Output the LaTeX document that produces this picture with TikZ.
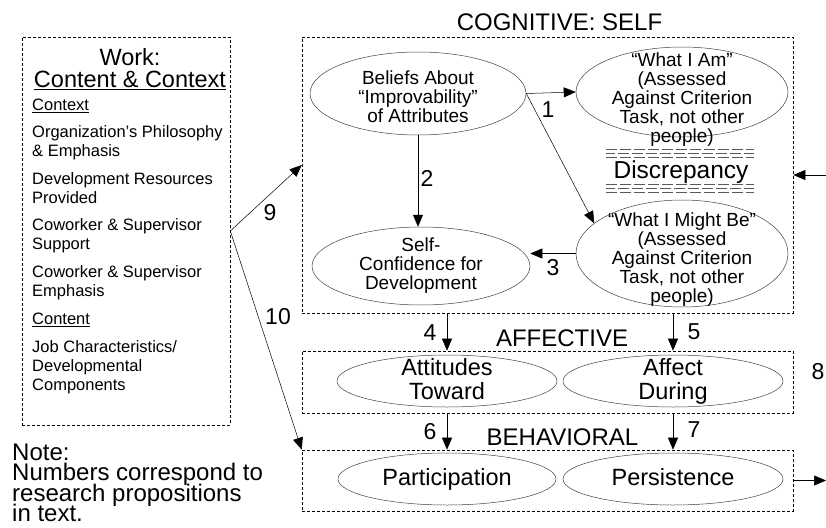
\documentclass[tikz,border=0pt]{standalone}
\usepackage{fontspec}
\setmainfont{Liberation Sans}
\usepackage{tikz}
\usetikzlibrary{positioning}
\usetikzlibrary{arrows.meta}
\usetikzlibrary{shapes.geometric}
\newcommand{\titlefont}{\fontsize{24}{20.5}\selectfont\lineskiplimit=-30pt\relax}
\newcommand{\ovaltext}{\fontsize{19}{19}\selectfont}
\newcommand{\boxtext}{\fontsize{16.5}{19}\selectfont}
\newcommand{\numtext}{\fontsize{23}{23}\selectfont}
\tikzset{dashbox/.style={draw,dash pattern=on 3pt off 2pt,line width=0.6pt,minimum width=491pt,inner sep=0pt}}
\tikzset{oval/.style={draw=black!75,ellipse,inner sep=0pt,line width=0.5pt}}
\tikzset{ovallab/.style={align=center,inner sep=0pt,font=\ovaltext}}
\tikzset{biglab/.style={align=center,inner sep=0pt,font=\fontsize{23.5}{24}\selectfont}}
\tikzset{workitem/.style={anchor=west,align=left,inner sep=0pt,font=\boxtext}}
\tikzset{numlab/.style={inner sep=0pt,font=\numtext}}
\tikzset{arr/.style={-{Triangle[length=12pt,width=10pt]},line width=0.5pt}}

\begin{document}
\begin{tikzpicture}[x=1pt,y=-1pt]
            \useasboundingbox (0,0) rectangle (826,527);
            % work box
            \node[dashbox,minimum width=208pt,minimum height=388pt] (work) at (126,231) {};
            \node[inner sep=0pt,font=\fontsize{23.5}{23.5}\selectfont] (worktitle) at (130,57) {Work:};
            \node[inner sep=0pt,font=\fontsize{23.5}{23.5}\selectfont] (worksub) at (130,80) {\underline{Content \& Context}};
            \node[workitem] (ctx) at (32,106) {\underline{Context}};
            \node[workitem] (w1) at (32,142.5) {Organization’s Philosophy\\\& Emphasis};
            \node[workitem] (w2) at (32,188.5) {Development Resources\\Provided};
            \node[workitem] (w3) at (32,236) {Coworker \& Supervisor\\Support};
            \node[workitem] (w4) at (32,282.5) {Coworker \& Supervisor\\Emphasis};
            \node[workitem] (cnt) at (32,320) {\underline{Content}};
            \node[workitem] (w5) at (32,367) {Job Characteristics/\\Developmental\\Components};
            \node[anchor=west,align=left,inner sep=0pt,font=\titlefont] (note) at (12,483) {Note:\\Numbers correspond to\\research propositions\\in text.};

            % three levels
            \node[dashbox,minimum height=276pt] (cog) at (547.5,175) {};
            \node[dashbox,minimum height=62pt] (aff) at (547.5,382) {};
            \node[dashbox,minimum height=61pt] (beh) at (547.5,480.5) {};
            \draw (559.5,22) node[inner sep=0pt,font=\titlefont] (cogt) {COGNITIVE: SELF};
            \draw (562,338) node[inner sep=0pt,font=\titlefont] (afft) {AFFECTIVE};
            \draw (562.5,437) node[inner sep=0pt,font=\titlefont] (beht) {BEHAVIORAL};

            % ellipses
            \node[oval,minimum width=216pt,minimum height=83pt] (beliefs) at (418,93.5) {};
            \node[ovallab] (beliefs-t) at ([yshift=-3pt]beliefs.center) {Beliefs About\\“Improvability”\\of Attributes};
            \node[oval,minimum width=212pt,minimum height=90pt] (whatam) at (682,92) {};
            \node[ovallab] (whatam-t) at ([yshift=-8pt]whatam.center) {“What I Am”\\(Assessed\\Against Criterion\\Task, not other\\people)};
            \node[oval,minimum width=212pt,minimum height=107pt] (mightbe) at (682,253.5) {};
            \node[ovallab] (mightbe-t) at ([yshift=-6pt]mightbe.center) {“What I Might Be”\\(Assessed\\Against Criterion\\Task, not other\\people)};
            \node[oval,minimum width=218pt,minimum height=78pt] (selfconf) at (421,266) {};
            \node[ovallab] (selfconf-t) at (selfconf.center) {Self-\\Confidence for\\Development};
            \node[oval,minimum width=220pt,minimum height=52pt] (attitudes) at (447,381) {};
            \node[biglab] (attitudes-t) at (attitudes.center) {Attitudes\\Toward\vphantom{g}};
            \node[oval,minimum width=220pt,minimum height=52pt] (affect) at (673,381) {};
            \node[biglab] (affect-t) at (affect.center) {Affect\\During};
            \node[oval,minimum width=218pt,minimum height=52pt] (particip) at (447,479) {};
            \node[biglab] (particip-t) at (particip.center) {Participation};
            \node[oval,minimum width=220pt,minimum height=52pt] (persist) at (673,479) {};
            \node[biglab] (persist-t) at (persist.center) {Persistence\vphantom{p}};

            % discrepancy
            \foreach \yy/\ph in {149/0,153/2,157/0,184/0,188/2,192/0}
                \draw[black!65,line width=0.9pt,dash pattern=on 11pt off 3pt,dash phase=\ph pt] (606,\yy) -- (754,\yy);
            \node[inner sep=0pt,font=\fontsize{24.5}{24.5}\selectfont] (disc) at (681,172) {Discrepancy};

            % connectors
            \coordinate (rin) at (826,175);
            \coordinate (rout) at (826,480.5);
            \draw[arr] (beliefs.east) -- (whatam.west);
            \draw[arr] (beliefs.east) -- (mightbe.161);
            \draw[arr] (beliefs.south) -- (beliefs.south |- selfconf.north);
            \draw[arr] (mightbe.west) -- (mightbe.west -| selfconf.east);
            \draw[arr] (cog.south -| attitudes) -- (aff.north -| attitudes);
            \draw[arr] (cog.south -| affect) -- (aff.north -| affect);
            \draw[arr] (aff.south -| attitudes) -- (beh.north -| attitudes);
            \draw[arr] (aff.south -| affect) -- (beh.north -| affect);
            \draw[arr] (work.east) -- ([yshift=10pt]cog.west);
            \draw[arr] (work.east) -- (beh.north west);
            \draw[arr] (rin) -- (cog.east);
            \draw[arr] (beh.east) -- (rout);

            % proposition numbers
            \draw (548,110) node[numlab] (n1) {1};
            \draw (427,178) node[numlab] (n2) {2};
            \draw (553,268) node[numlab] (n3) {3};
            \draw (430,333) node[numlab] (n4) {4};
            \draw (694,332) node[numlab] (n5) {5};
            \draw (430,432) node[numlab] (n6) {6};
            \draw (694,430) node[numlab] (n7) {7};
            \draw (818,372) node[numlab] (n8) {8};
            \draw (270,213) node[numlab] (n9) {9};
            \draw (278,317) node[numlab] (n10) {10};
\end{tikzpicture}
\end{document}
